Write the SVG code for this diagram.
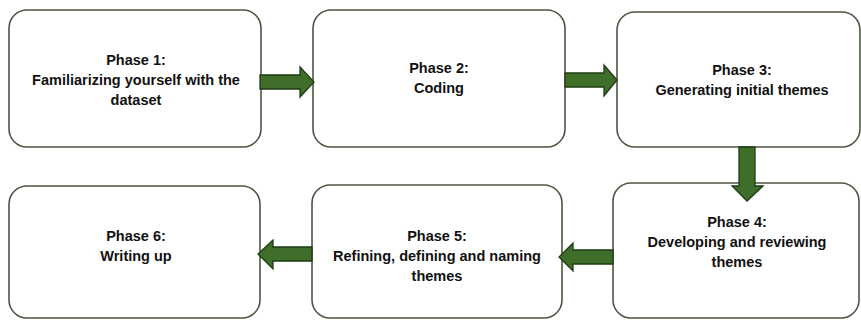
<svg xmlns="http://www.w3.org/2000/svg" width="861" height="320" viewBox="0 0 861 320">
  <style>
    .box { fill: #ffffff; stroke: #4b5741; stroke-width: 1.6; }
    .lbl { font-family: "Liberation Sans", Arial, sans-serif; font-weight: bold; font-size: 14.5px; fill: #111111; text-anchor: middle; }
    .arrow { fill: #3e6e2a; stroke: #1f3b14; stroke-width: 1.3; stroke-linejoin: miter; }
  </style>
  <rect width="861" height="320" fill="#ffffff"/>

  <!-- phase boxes -->
  <g id="phase1">
    <rect class="box" x="9" y="10" width="252" height="137" rx="18"/>
    <text class="lbl" x="136" y="65">Phase 1:</text>
    <text class="lbl" x="136" y="85">Familiarizing yourself with the</text>
    <text class="lbl" x="136" y="105">dataset</text>
  </g>
  <g id="phase2">
    <rect class="box" x="313" y="10" width="252" height="137" rx="18"/>
    <text class="lbl" x="439" y="73">Phase 2:</text>
    <text class="lbl" x="439" y="93">Coding</text>
  </g>
  <g id="phase3">
    <rect class="box" x="617" y="12" width="243" height="135" rx="18"/>
    <text class="lbl" x="742" y="75">Phase 3:</text>
    <text class="lbl" x="742" y="95">Generating initial themes</text>
  </g>
  <g id="phase4">
    <rect class="box" x="613" y="183" width="246" height="135" rx="18"/>
    <text class="lbl" x="737" y="227">Phase 4:</text>
    <text class="lbl" x="737" y="247">Developing and reviewing</text>
    <text class="lbl" x="737" y="267">themes</text>
  </g>
  <g id="phase5">
    <rect class="box" x="312" y="185" width="250" height="133" rx="18"/>
    <text class="lbl" x="437" y="241">Phase 5:</text>
    <text class="lbl" x="437" y="261">Refining, defining and naming</text>
    <text class="lbl" x="437" y="281">themes</text>
  </g>
  <g id="phase6">
    <rect class="box" x="9" y="186" width="251" height="132" rx="18"/>
    <text class="lbl" x="136" y="241">Phase 6:</text>
    <text class="lbl" x="136" y="261">Writing up</text>
  </g>

  <!-- block arrows between phases -->
  <g id="connectors">
    <polygon class="arrow" points="260,75 300,75 300,67 314,82 300,97 300,89 260,89"/>
    <polygon class="arrow" points="565,73 604,73 604,65 617,80 604,96 604,87 565,87"/>
    <polygon class="arrow" points="739,147 755,147 755,186 763,186 747,201 732,186 739,186"/>
    <polygon class="arrow" points="613,250 573,250 573,243 559,257 573,271 573,264 613,264"/>
    <polygon class="arrow" points="312,247 273,247 273,240 258,254 273,269 273,261 312,261"/>
  </g>
</svg>
